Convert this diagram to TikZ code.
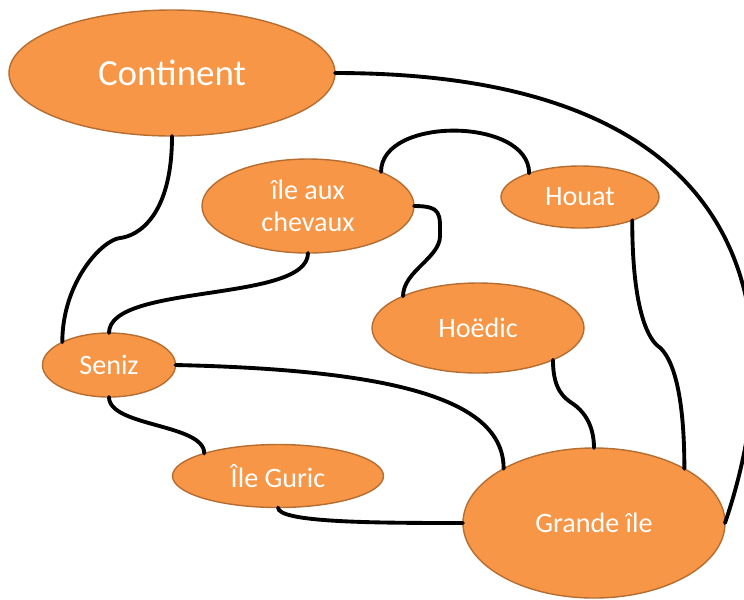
\documentclass[tikz,border=0pt]{standalone}
\usepackage{fontspec}
\setmainfont{Carlito}
\usetikzlibrary{shapes.geometric}

\definecolor{islandfill}{HTML}{F79646}
\definecolor{islandline}{HTML}{B66D31}

\begin{document}
\begin{tikzpicture}[%
  x=0.2mm, y=-0.2mm,
  island/.style={ellipse, draw=islandline, fill=islandfill, line width=0.8pt,
    text=white, align=center, inner sep=0pt, outer sep=0pt,
    font=\fontsize{16}{18.2}\selectfont},
  link/.style={line width=2.2pt, line cap=round},
]

  \useasboundingbox (0,0) rectangle (744,599);

  \node[island, minimum width=65.2mm, minimum height=25.2mm,
    font=\fontsize{21}{25}\selectfont] (cont) at (172,73) {Continent};
  \node[island, minimum width=42.4mm, minimum height=18.8mm] (chevaux) at (308,206) {île aux\\chevaux};
  \node[island, minimum width=31.6mm, minimum height=12.4mm] (houat) at (580,197) {Houat};
  \node[island, minimum width=42.4mm, minimum height=18mm] (hoedic) at (478,328) {Hoëdic};
  \node[island, minimum width=26.6mm, minimum height=12.8mm] (seniz) at (109,365) {Seniz};
  \node[island, minimum width=42.2mm, minimum height=12.6mm] (guric) at (278,476) {Île Guric};
  \node[island, minimum width=52.4mm, minimum height=30mm] (grande) at (594,523) {Grande île};

  \draw[link] (cont.south) .. controls +(0,80) and +(18,-2) .. ++(-52,102)
    .. controls +(-18,2) and +(0,-60) .. (seniz.154);
  \draw[link] (cont.east) .. controls +(430,0) and +(68,-200) .. (grande.east);

  \draw[link] (chevaux.25) .. controls +(0,-56) and +(0,-56) .. (houat.155);
  \draw[link] (chevaux.east) .. controls +(28,0) and +(0,-22) .. ++(26,30)
    .. controls +(0,22) and +(0,-25) .. (hoedic.157);
  \draw[link] (chevaux.south) .. controls +(0,50) and +(0,-50) .. (seniz.north);

  \draw[link] (seniz.east) .. controls +(224,5) and +(0,-68) .. (grande.149);
  \draw[link] (seniz.south) .. controls +(0,30) and +(0,-30) .. (guric.163);
  \draw[link] (guric.south) .. controls +(0,15) and +(-90,0) .. (grande.west);

  \draw[link] (hoedic.337) .. controls +(0,30) and +(-9,-6) .. ++(20,44)
    .. controls +(9,6) and +(0,-25) .. (grande.north);
  \draw[link] (houat.336) .. controls +(0,95) and +(-8,-6) .. ++(26,126)
    .. controls +(8,6) and +(0,-95) .. (grande.31);

\end{tikzpicture}
\end{document}
